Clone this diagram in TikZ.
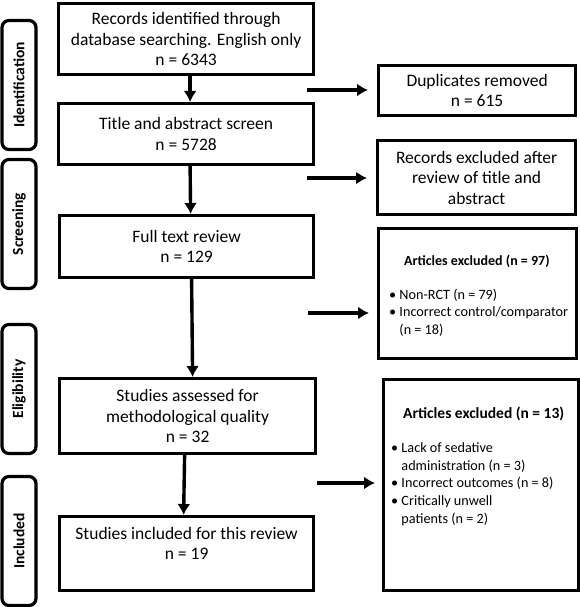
\documentclass[tikz,border=0pt]{standalone}
\usepackage{fontspec}
\setmainfont{Carlito}
\usetikzlibrary{shapes,arrows.meta,positioning}
\tikzstyle{Block} = [draw, rectangle, line width=3.2pt, align=center, anchor=north west, font=\fontsize{17.5}{20.5}\selectfont, inner sep=2pt]
\tikzstyle{Side} = [draw, rectangle, line width=3.2pt, anchor=north west, inner sep=2pt]
\tikzstyle{Small} = [align=left, anchor=north west, inner sep=0pt, font=\fontsize{14.2}{17.7}\selectfont]
\tikzstyle{Phase} = [draw, rounded corners=7pt, line width=3.2pt, rotate=90, minimum height=34pt, minimum width=129pt, font=\bfseries\fontsize{15.5}{18}\selectfont]
\tikzstyle{Flow} = [line width=3.4pt, -{Latex[length=11pt,width=13pt]}]

\begin{document}
\begin{tikzpicture}[x=1pt, y=-1pt]
    \useasboundingbox (0,0) rectangle (580,607);
    % phases
    \node[Phase] (ident) at (19,85)    {Identification};
    \node[Phase] (screen) at (19,224)  {Screening};
    \node[Phase] (elig) at (19,389)    {Eligibility};
    \node[Phase] (incl) at (19,541)    {Included};
    % main column
    \node[Block, minimum width=255pt, minimum height=71pt] (records) at (57,2)
        {Records identified through\\ database searching. English only\\ n = 6343};
    \node[Block, minimum width=255pt, minimum height=61pt] (title) at (57,102)
        {Title and abstract screen\\ n = 5728};
    \node[Block, minimum width=254pt, minimum height=62pt] (fulltext) at (58,214)
        {Full text review\\ n = 129};
    \node[Block, minimum width=256pt, minimum height=75pt] (assessed) at (58,377)
        {Studies assessed for\\ methodological quality\\ n = 32};
    \node[Block, minimum width=254pt, minimum height=74pt] (included) at (58,515)
        {Studies included for this review\\ n = 19\\ \mbox{}};
    % exclusions
    \node[Block, minimum width=197pt, minimum height=50pt] (dupl) at (377,64)
        {Duplicates removed\\ n = 615};
    \node[Block, minimum width=198pt, minimum height=74pt] (excl) at (376,139)
        {Records excluded after\\ review of title and\\ abstract};
    \node[Side, minimum width=198pt, minimum height=130pt] (arts1) at (377,227) {};
    \node[Small] (arts1txt) at (389,255)
        {\hspace*{15pt}\textbf{\fontsize{14}{17}\selectfont Articles excluded (n = 97)}\\[16pt]
         \textbullet\ Non-RCT (n = 79)\\
         \textbullet\ Incorrect control/comparator\\
         \phantom{\textbullet\ }(n = 18)};
    \node[Side, minimum width=195pt, minimum height=211pt] (arts2) at (382,378) {};
    \node[Small] (arts2txt) at (391,407)
        {\hspace*{12pt}\textbf{\fontsize{15.5}{17}\selectfont Articles excluded (n = 13)}\\[16pt]
         \textbullet\ Lack of sedative\\
         \phantom{\textbullet\ }administration (n = 3)\\
         \textbullet\ Incorrect outcomes (n = 8)\\
         \textbullet\ Critically unwell\\
         \phantom{\textbullet\ }patients (n = 2)};
    % arrows
    \coordinate (c1) at (307,90);
    \coordinate (c2) at (307,178);
    \coordinate (c3) at (308,313);
    \coordinate (c4) at (317,483);
    \draw[Flow] ([xshift=4pt]records.south) to ([xshift=4pt]title.north);
    \draw[Flow] ([xshift=4pt]title.south) to ([xshift=4pt]fulltext.north);
    \draw[Flow] ([xshift=5pt]fulltext.south) to ([xshift=5pt]assessed.north);
    \draw[Flow] ([xshift=-3pt]assessed.south) to ([xshift=-3pt]included.north);
    \draw[Flow, shorten >=9pt] (c1) to (c1 -| dupl.west);
    \draw[Flow, shorten >=9pt] (c2) to (c2 -| excl.west);
    \draw[Flow, shorten >=8pt] (c3) to (c3 -| arts1.west);
    \draw[Flow, shorten >=7pt] (c4) to (c4 -| arts2.west);
  \end{tikzpicture}
\end{document}
